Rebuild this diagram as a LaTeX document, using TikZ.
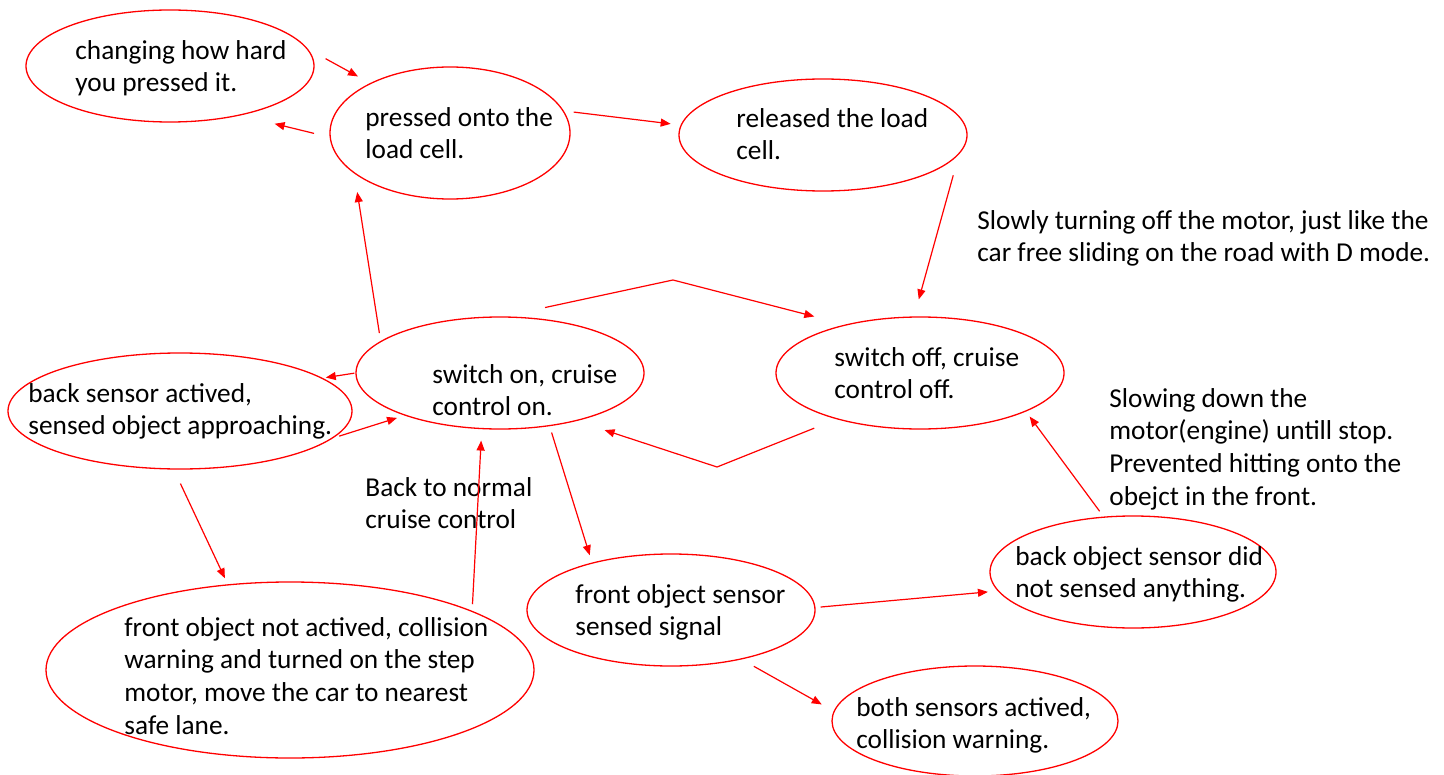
\documentclass[tikz,border=0pt]{standalone}
\usepackage{fontspec}
\setmainfont{Carlito}
\usetikzlibrary{arrows.meta}
\usetikzlibrary{shapes.geometric}

\begin{document}
\begin{tikzpicture}[x=0.5pt,y=-0.5pt]
	\useasboundingbox (0,0) rectangle (1444,775);
	
	\tikzstyle{state}=[ellipse,draw=red,line width=0.65pt,inner sep=0pt]
	\tikzstyle{names}=[anchor=north west,inner sep=0pt,align=left,font=\fontsize{13.65}{16.3}\selectfont]
	\tikzstyle{link}=[red,line width=0.6pt,-{Triangle[length=5pt,width=4pt]}]
	
	%States - ellipses (name/x/y/width/height)
	\foreach \name/\x/\y/\w/\h in {changing/170/66/144/56, pressed/450/133/120/66, released/823/135/144/56,
		swoff/920/373/144/56, swon/500/373/144/56, backsens/180/411/172/58, frontnot/290/670/244/88,
		frontsens/671/610/144/56, backobj/1133/572/143/56, both/975/721/143/55}
	\node[state,minimum width=\w pt,minimum height=\h pt] (\name) at (\x,\y) {};
	
	%State texts
	\node[names] (t-changing) at (75,36) {\strut changing how hard\\you pressed it.};
	\node[names] (t-pressed) at (365,103) {\strut pressed onto the\\load cell.};
	\node[names] (t-released) at (736,104) {\strut released the load\\cell.};
	\node[names] (t-swoff) at (834,343) {\strut switch off, cruise\\control off.};
	\node[names] (t-swon) at (432,360) {\strut switch on, cruise\\control on.};
	\node[names] (t-backsens) at (28,379) {\strut back sensor actived,\\sensed object approaching.};
	\node[names] (t-frontnot) at (124,613) {\strut front object not actived, collision\\warning and turned on the step\\motor, move the car to nearest\\safe lane.};
	\node[names] (t-frontsens) at (575,580) {\strut front object sensor\\sensed signal};
	\node[names] (t-backobj) at (1015,542) {\strut back object sensor did\\not sensed anything.};
	\node[names] (t-both) at (856,693) {\strut both sensors actived,\\collision warning.};
	
	%Free notes
	\node[names] (n-slowly) at (977,206) {\strut Slowly turning off the motor, just like the\\car free sliding on the road with D mode.};
	\node[names] (n-slowing) at (1109,384) {\strut Slowing down the\\motor(engine) untill stop.\\Prevented hitting onto the\\obejct in the front.};
	\node[names] (n-back) at (365,473) {\strut Back to normal\\cruise control};
	
	%Links
	\foreach \from/\to/\s/\e in {changing.7.9/pressed.148.4/10/6.9, pressed.182.9/changing.-35.9/8/17.5,
		pressed.11.8/released.176.6/5/5, released.-8.8/swoff.96.7/11/8.8, swon.165.5/pressed.203.2/4/9.35,
		swon.180.4/backsens.13.5/0.5/1.5, backsens.-10/swon.204/3.1/3.9, backsens.-96.3/frontnot.126.6/7.7/3.3,
		frontnot.18.8/swon.-108/3.3/5.7, swon.-47.7/frontsens.149.2/3.3/3.8, frontsens.1.8/backobj.188.2/2.6/4.9,
		backobj.118.7/swoff.-20.7/3.3/3.1, frontsens.-35.5/both.176.6/7/6.8}
	\draw[link,shorten <=\s pt,shorten >=\e pt] (\from) -- (\to);
	
	%Bent links between the two switches
	\coordinate (bend-on) at (673,280);
	\coordinate (bend-off) at (717,467);
	\draw[link,shorten <=21pt,shorten >=16pt] (swon.86) -- (bend-on) -- (swoff.147.4);
	\draw[link,shorten <=12pt,shorten >=14.6pt] (swoff.209.9) -- (bend-off) -- (swon.-32.9);
	
\end{tikzpicture}
\end{document}
